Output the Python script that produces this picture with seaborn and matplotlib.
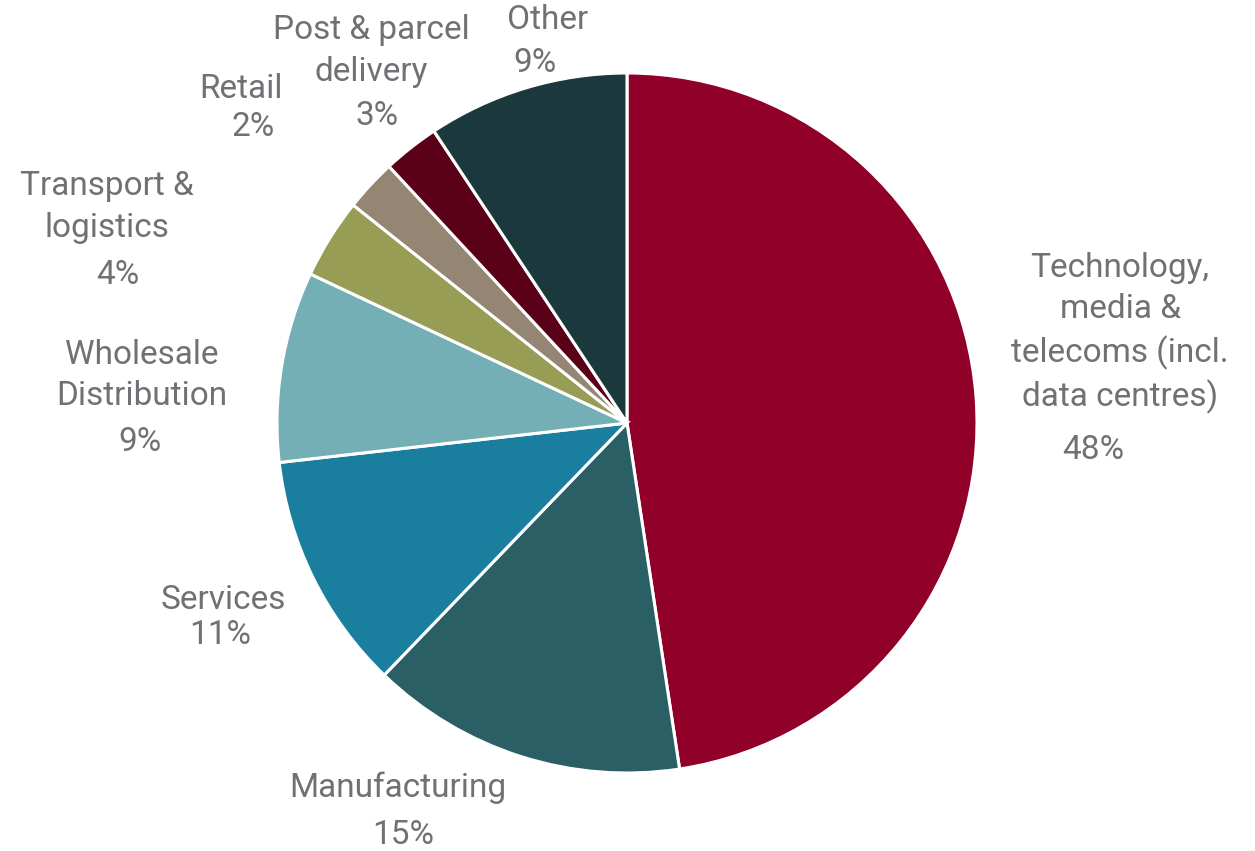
import matplotlib
matplotlib.use("Agg")
import matplotlib.pyplot as plt
import seaborn as sns

sns.set_theme(style="white")
plt.rcParams['font.family'] = ['Roboto', 'DejaVu Sans']

categories = ["Technology,\nmedia &\ntelecoms (incl.\ndata centres)", "Manufacturing", "Services",
              "Wholesale\nDistribution", "Transport &\nlogistics", "Retail",
              "Post & parcel\ndelivery", "Other"]
values = [47.6, 14.6, 11.0, 8.8, 3.7, 2.4, 2.6, 9.3]
colors = ["#900028", "#2a5f66", "#1a7f9f", "#74afb6", "#979d55", "#958673", "#5a0019", "#1b393d"]

# label layout (pixel centres of name block and percentage line)
name_pos = [(1120, 333), (398, 788), (223, 600), (142, 375), (107, 207), (241, 89), (371, 51), (548, 20)]
pct_pos = [(1093, 450), (403, 835), (220, 635), (140, 442), (118, 275), (253, 127), (377, 116), (535, 63)]

W, H = 1255, 851
fig = plt.figure(figsize=(W / 100, H / 100), dpi=100)
cx, cy, r = 627, 423, 350
ax = fig.add_axes([(cx - r) / W, (H - cy - r) / H, 2 * r / W, 2 * r / H])
ax.pie(values, colors=colors, startangle=90, counterclock=False,
       wedgeprops=dict(edgecolor="white", linewidth=2.2))
ax.set_xlim(-1, 1)
ax.set_ylim(-1, 1)
ax.set_aspect("equal")
ax.axis("off")

tc = "#707175"
for name, v, (nx, ny), (px, py) in zip(categories, values, name_pos, pct_pos):
    fig.text(nx / W, 1 - ny / H, name, ha="center", va="center", fontsize=24,
             color=tc, linespacing=1.36)
    fig.text(px / W, 1 - py / H, f"{round(v):.0f}%", ha="center", va="center",
             fontsize=24, color=tc)

fig.savefig("out.png", dpi=100)
